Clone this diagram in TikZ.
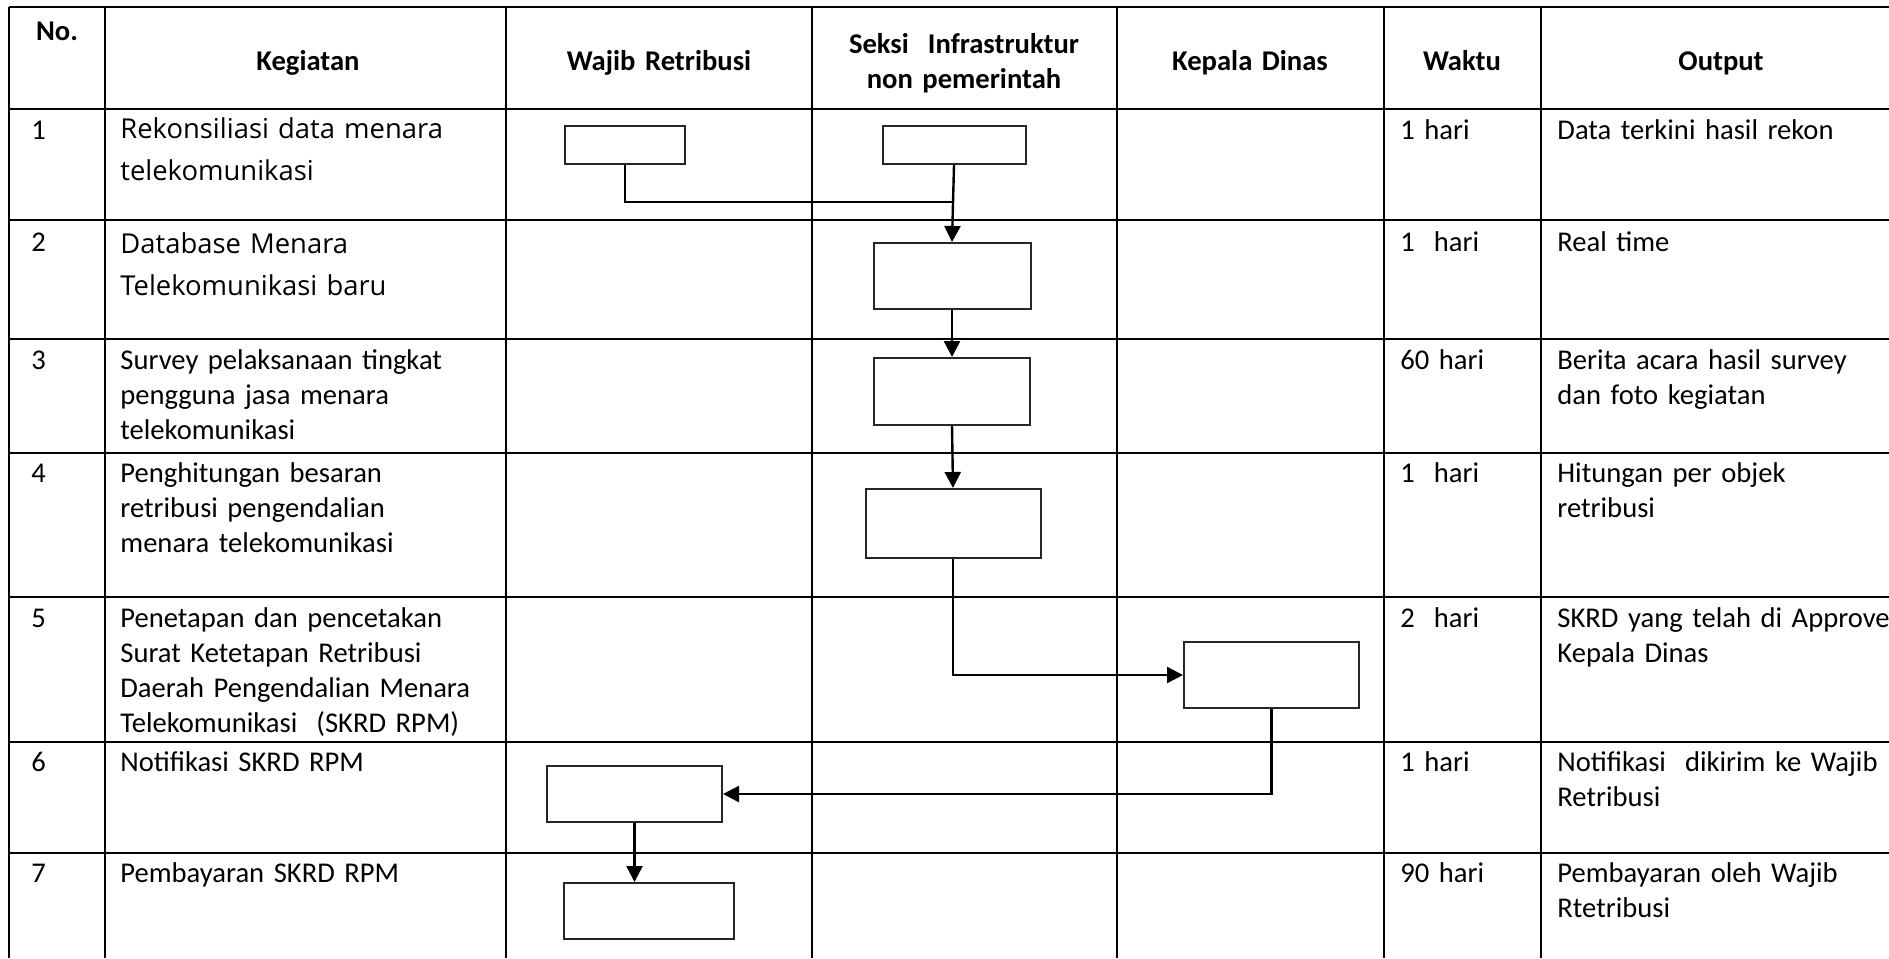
\documentclass[tikz,border=0pt]{standalone}
\usepackage{fontspec}
\setmainfont{Carlito}
\newfontfamily\wideface{Open Sans}
\usetikzlibrary{arrows.meta}

\tikzset{
  grid line/.style={line width=1.4pt},
  flowbox/.style={draw=black!85, line width=1pt, inner sep=0pt},
  link/.style={line width=1.2pt},
  flow/.style={link, -{Triangle[length=8pt,width=8pt]}},
  cell/.style={anchor=base west, inner sep=0pt, align=left, text width=#1},
  cell/.default=190pt,
  head/.style={anchor=base, inner sep=0pt, font=\fontsize{14.3}{17.6}\selectfont\bfseries, align=center, text width=140pt},
  wide/.style={font=\wideface\fontsize{13.7}{21}\selectfont},
}

\begin{document}
\begin{tikzpicture}[x=0.5pt, y=-0.5pt, font=\fontsize{14.3}{17.6}\selectfont]

    \useasboundingbox (0,0) rectangle (1889,958);

    % Grid
    \draw[grid line] (9,7) -- (1889,7);
    \draw[grid line] (9,109) -- (1889,109);
    \draw[grid line] (9,220) -- (1889,220);
    \draw[grid line] (9,339) -- (1889,339);
    \draw[grid line] (9,453) -- (1889,453);
    \draw[grid line] (9,597) -- (1889,597);
    \draw[grid line] (9,742) -- (1889,742);
    \draw[grid line] (9,853) -- (1889,853);
    \draw[grid line] (9,7) -- (9,958);
    \draw[grid line] (105,7) -- (105,958);
    \draw[grid line] (506,7) -- (506,958);
    \draw[grid line] (812,7) -- (812,958);
    \draw[grid line] (1117,7) -- (1117,958);
    \draw[grid line] (1384,7) -- (1384,958);
    \draw[grid line] (1541,7) -- (1541,958);

    % Header
    \node[head] (hno) at (57,40) {No.};
    \node[head] (hkeg) at (308,70) {Kegiatan};
    \node[head] (hwajib) at (659,70) {Wajib Retribusi};
    \node[head] (hseksi) at (964,53) {Seksi~~Infrastruktur\\non pemerintah};
    \node[head] (hkepala) at (1250,70) {Kepala Dinas};
    \node[head] (hwaktu) at (1462,70) {Waktu};
    \node[head] (hout) at (1721,70) {Output};

    % Row 1
    \node[cell=30pt] (n1) at (31,139) {1};
    \node[cell, wide] (k1) at (120,138) {Rekonsiliasi data menara\\telekomunikasi};
    \node[cell=70pt] (t1) at (1400,139) {1 hari};
    \node[cell] (o1) at (1557,139) {Data terkini hasil rekon};

    % Row 2
    \node[cell=30pt] (n2) at (31,251) {2};
    \node[cell, wide] (k2) at (120,253) {Database Menara\\Telekomunikasi baru};
    \node[cell=70pt] (t2) at (1400,251) {1~~hari};
    \node[cell] (o2) at (1557,251) {Real time};

    % Row 3
    \node[cell=30pt] (n3) at (31,369) {3};
    \node[cell] (k3) at (120,369) {Survey pelaksanaan tingkat\\pengguna jasa menara\\telekomunikasi};
    \node[cell=70pt] (t3) at (1400,369) {60 hari};
    \node[cell] (o3) at (1557,369) {Berita acara hasil survey\\dan foto kegiatan};

    % Row 4
    \node[cell=30pt] (n4) at (31,482) {4};
    \node[cell] (k4) at (120,482) {Penghitungan besaran\\retribusi pengendalian\\menara telekomunikasi};
    \node[cell=70pt] (t4) at (1400,482) {1~~hari};
    \node[cell] (o4) at (1557,482) {Hitungan per objek\\retribusi};

    % Row 5
    \node[cell=30pt] (n5) at (31,627) {5};
    \node[cell] (k5) at (120,627) {Penetapan dan pencetakan\\Surat Ketetapan Retribusi\\Daerah Pengendalian Menara\\Telekomunikasi~~(SKRD RPM)};
    \node[cell=70pt] (t5) at (1400,627) {2~~hari};
    \node[cell] (o5) at (1557,627) {SKRD yang telah di Approve\\Kepala Dinas};

    % Row 6
    \node[cell=30pt] (n6) at (31,771) {6};
    \node[cell] (k6) at (120,771) {Notifikasi SKRD RPM};
    \node[cell=70pt] (t6) at (1400,771) {1 hari};
    \node[cell] (o6) at (1557,771) {Notifikasi~~dikirim ke Wajib\\Retribusi};

    % Row 7
    \node[cell=30pt] (n7) at (31,882) {7};
    \node[cell] (k7) at (120,882) {Pembayaran SKRD RPM};
    \node[cell=70pt] (t7) at (1400,882) {90 hari};
    \node[cell] (o7) at (1557,882) {Pembayaran oleh Wajib\\Rtetribusi};

    % Boxes
    \node[flowbox, minimum width=60pt, minimum height=19pt] (w1) at (625,145) {};
    \node[flowbox, minimum width=71.5pt, minimum height=19pt] (s1) at (954,145) {};
    \node[flowbox, minimum width=78.5pt, minimum height=33pt] (s2) at (952,276) {};
    \node[flowbox, minimum width=78pt, minimum height=33.5pt] (s3) at (952,391.5) {};
    \node[flowbox, minimum width=87.5pt, minimum height=34.5pt] (s4) at (953,523.5) {};
    \node[flowbox, minimum width=87.5pt, minimum height=33pt] (kd) at (1271.5,675) {};
    \node[flowbox, minimum width=87.5pt, minimum height=28pt] (w6) at (634.5,794) {};
    \node[flowbox, minimum width=85pt, minimum height=28pt] (w7) at (649,911) {};

    % Connectors
    \coordinate (m1) at (0,202);
    \draw[link] (w1.south) |- (s1.south |- m1);
    \draw[flow] (s1.south) -- (s2.north);
    \draw[flow] (s2.south) -- (s3.north);
    \draw[flow] (s3.south) -- (s4.north);
    \draw[flow] (s4.south) |- (kd.west);
    \draw[flow] (kd.south) |- (w6.east);
    \draw[flow] (w6.south) -- (w6.south |- w7.north);

\end{tikzpicture}
\end{document}
